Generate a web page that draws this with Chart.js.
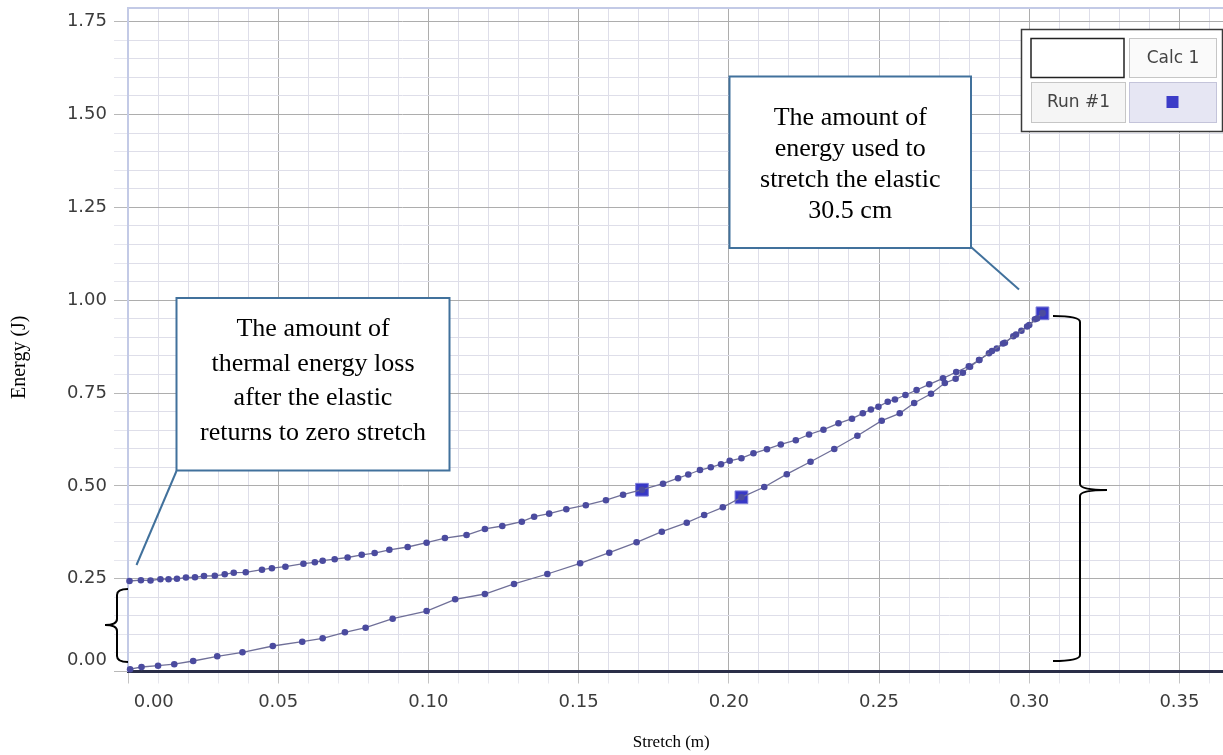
<!DOCTYPE html>
<html>
<head>
<meta charset="utf-8">
<script src="https://cdn.jsdelivr.net/npm/chart.js@4.4.0/dist/chart.umd.min.js"></script>
<style>
  html, body { margin: 0; padding: 0; background: #fff; }
  #wrap { width: 1223px; height: 755px; position: relative; }
</style>
</head>
<body>
<div id="wrap"><canvas id="chart"></canvas></div>
<script>
// values: stretch (m) vs energy (J)
const stretchX = [0.0007, 0.0045, 0.0100, 0.0154, 0.0217, 0.0297, 0.0381, 0.0482, 0.0580, 0.0648,
  0.0722, 0.0791, 0.0881, 0.0994, 0.1089, 0.1188, 0.1285, 0.1396, 0.1505, 0.1602,
  0.1693, 0.1777, 0.1860, 0.1918, 0.1980, 0.2042, 0.2118, 0.2193, 0.2272, 0.2351,
  0.2428, 0.2509, 0.2569, 0.2617, 0.2673, 0.2719, 0.2755, 0.2779, 0.2803, 0.2834,
  0.2876, 0.2913, 0.2956, 0.2993, 0.3026, 0.3044];
const stretchE = [0.0062, 0.0121, 0.0156, 0.0197, 0.0283, 0.0409, 0.0517, 0.0687, 0.0803, 0.0894,
  0.1056, 0.1180, 0.1422, 0.1629, 0.1945, 0.2087, 0.2357, 0.2626, 0.2914, 0.3200,
  0.3480, 0.3765, 0.4008, 0.4215, 0.4422, 0.4692, 0.4969, 0.5314, 0.5650, 0.5992,
  0.6348, 0.6755, 0.6954, 0.7231, 0.7482, 0.7770, 0.7883, 0.8047, 0.8209, 0.8389,
  0.8632, 0.8834, 0.9076, 0.9292, 0.9507, 0.9647];

const returnX = [0.0005, 0.0043, 0.0075, 0.0108, 0.0135, 0.0163, 0.0193, 0.0223, 0.0253, 0.0289,
  0.0322, 0.0352, 0.0392, 0.0446, 0.0479, 0.0524, 0.0584, 0.0622, 0.0648, 0.0688,
  0.0731, 0.0778, 0.0821, 0.0870, 0.0931, 0.0994, 0.1055, 0.1127, 0.1188, 0.1246,
  0.1311, 0.1352, 0.1402, 0.1459, 0.1524, 0.1591, 0.1648, 0.1711, 0.1781, 0.1831,
  0.1865, 0.1904, 0.1940, 0.1974, 0.2003, 0.2042, 0.2082, 0.2127, 0.2173, 0.2223,
  0.2267, 0.2315, 0.2365, 0.2410, 0.2446, 0.2473, 0.2498, 0.2529, 0.2553, 0.2588,
  0.2625, 0.2667, 0.2713, 0.2757, 0.2799, 0.2833, 0.2866, 0.2892, 0.2919, 0.2947,
  0.2974, 0.3000, 0.3019, 0.3044];
const returnE = [0.2437, 0.2459, 0.2451, 0.2486, 0.2486, 0.2497, 0.2532, 0.2537, 0.2572, 0.2577,
  0.2618, 0.2661, 0.2672, 0.2742, 0.2782, 0.2822, 0.2903, 0.2941, 0.2984, 0.3024,
  0.3070, 0.3143, 0.3191, 0.3278, 0.3353, 0.3469, 0.3595, 0.3676, 0.3839, 0.3919,
  0.4034, 0.4169, 0.4251, 0.4371, 0.4479, 0.4614, 0.4762, 0.4896, 0.5058, 0.5206,
  0.5306, 0.5427, 0.5500, 0.5583, 0.5675, 0.5745, 0.5877, 0.5987, 0.6114, 0.6229,
  0.6383, 0.6512, 0.6685, 0.6809, 0.6954, 0.7056, 0.7132, 0.7264, 0.7326, 0.7447,
  0.7581, 0.7735, 0.7897, 0.8066, 0.8220, 0.8389, 0.8570, 0.8699, 0.8855, 0.9028,
  0.9179, 0.9332, 0.9486, 0.9647];

// the big square markers on the run
const markerX = [0.1711, 0.2042, 0.3044];
const markerE = [0.4896, 0.4692, 0.9647];

const xTicks = [0, 0.05, 0.10, 0.15, 0.20, 0.25, 0.30, 0.35];
const yTicks = [0, 0.25, 0.50, 0.75, 1.00, 1.25, 1.50, 1.75];

const legendLabels = ['Calc 1', 'Run #1'];
const noteStretch = ['The amount of', 'energy used to', 'stretch the elastic', '30.5 cm'];
const noteThermal = ['The amount of', 'thermal energy loss', 'after the elastic', 'returns to zero stretch'];

const pts = (xs, ys) => xs.map((x, i) => ({ x: x, y: ys[i] }));
const onList = (list, v) => list.some(t => Math.abs(t - v) < 1e-9);

const MAJOR = '#adadad';
const MINOR = '#dedee9';
const FRAME = '#c3cae6';
const NOTE = '#41719c';

function callout(ctx, box, lines, baselines, lead) {
    ctx.save();
    ctx.fillStyle = '#fff';
    ctx.fillRect(box[0], box[1], box[2], box[3]);
    ctx.strokeStyle = NOTE;
    ctx.lineWidth = 2;
    ctx.strokeRect(box[0], box[1], box[2], box[3]);
    ctx.beginPath();
    ctx.moveTo(lead[0], lead[1]);
    ctx.lineTo(lead[2], lead[3]);
    ctx.stroke();
    ctx.fillStyle = '#000';
    ctx.font = '26px "Liberation Serif"';
    ctx.textAlign = 'center';
    ctx.textBaseline = 'alphabetic';
    const cx = box[0] + box[2] / 2;
    lines.forEach((t, i) => ctx.fillText(t, cx, baselines[i]));
    ctx.restore();
}

// curly bracket: ends at endX, spine at spineX, middle point out to tipX
function brace(ctx, endX, spineX, tipX, top, mid, bottom) {
    const d = 6;
    ctx.save();
    ctx.strokeStyle = '#000';
    ctx.lineWidth = 2;
    ctx.beginPath();
    ctx.moveTo(endX, top);
    ctx.quadraticCurveTo(spineX, top, spineX, top + d);
    ctx.lineTo(spineX, mid - d);
    ctx.quadraticCurveTo(spineX, mid, tipX, mid);
    ctx.quadraticCurveTo(spineX, mid, spineX, mid + d);
    ctx.lineTo(spineX, bottom - d);
    ctx.quadraticCurveTo(spineX, bottom, endX, bottom);
    ctx.stroke();
    ctx.restore();
}

const notesPlugin = {
    id: 'notes',
    afterDraw(chart) {
        const ctx = chart.ctx;
        const a = chart.chartArea;

        // light frame along the top of the plot
        ctx.save();
        ctx.strokeStyle = FRAME;
        ctx.lineWidth = 2;
        ctx.beginPath();
        ctx.moveTo(a.left, a.top);
        ctx.lineTo(a.right, a.top);
        ctx.stroke();
        ctx.restore();

        callout(ctx, [729.5, 76.5, 241.5, 171.5], noteStretch, [125, 156, 187, 218], [971, 247, 1019, 289.5]);
        callout(ctx, [176.5, 298, 273, 172.5], noteThermal, [336, 370.5, 405, 439.5], [176.5, 471, 136.5, 565]);

        brace(ctx, 128, 117, 105, 589, 625, 662);
        brace(ctx, 1053, 1080, 1107, 316, 490, 661);

        // legend table, top right
        ctx.save();
        ctx.fillStyle = '#fff';
        ctx.fillRect(1021.5, 29.5, 201, 102);
        ctx.strokeStyle = '#3a3a3a';
        ctx.lineWidth = 1.5;
        ctx.strokeRect(1021.5, 29.5, 201, 102);

        ctx.fillStyle = '#fff';
        ctx.fillRect(1031, 38.5, 93, 39);
        ctx.strokeStyle = '#222';
        ctx.lineWidth = 1.5;
        ctx.strokeRect(1031, 38.5, 93, 39);

        ctx.fillStyle = '#fafafa';
        ctx.fillRect(1129.5, 38.5, 87, 39);
        ctx.fillStyle = '#f5f5f5';
        ctx.fillRect(1031.5, 82.5, 94, 40);
        ctx.fillStyle = '#e6e6f3';
        ctx.fillRect(1129.5, 82.5, 87, 40);
        ctx.strokeStyle = '#c6c6c6';
        ctx.lineWidth = 1;
        ctx.strokeRect(1129.5, 38.5, 87, 39);
        ctx.strokeRect(1031.5, 82.5, 94, 40);
        ctx.strokeStyle = '#c4c4da';
        ctx.strokeRect(1129.5, 82.5, 87, 40);

        ctx.fillStyle = '#3c3cc8';
        ctx.fillRect(1166.5, 96, 12, 12);

        ctx.fillStyle = '#444';
        ctx.font = '17px "DejaVu Sans"';
        ctx.textAlign = 'center';
        ctx.textBaseline = 'middle';
        ctx.fillText(legendLabels[0], 1173, 58.5);
        ctx.fillText(legendLabels[1], 1078.5, 102.5);
        ctx.restore();
    }
};

const runStyle = {
    showLine: true,
    borderColor: '#6f6f98',
    borderWidth: 1.3,
    pointRadius: 3.3,
    pointHoverRadius: 3.3,
    pointBackgroundColor: '#4b4b9f',
    pointBorderWidth: 0,
    clip: false
};

new Chart(document.getElementById('chart'), {
    type: 'scatter',
    data: {
        datasets: [
            Object.assign({ label: 'Run #1', data: pts(stretchX, stretchE) }, runStyle),
            Object.assign({ label: 'Run #1 return', data: pts(returnX, returnE) }, runStyle),
            {
                label: 'markers',
                data: pts(markerX, markerE),
                showLine: false,
                pointStyle: 'rect',
                pointRadius: 9,
                pointHoverRadius: 9,
                pointBackgroundColor: '#3838c6',
                pointBorderColor: '#7d7dd8',
                pointBorderWidth: 1,
                clip: false
            }
        ]
    },
    options: {
        responsive: true,
        maintainAspectRatio: false,
        animation: false,
        layout: { autoPadding: false, padding: { left: 8, top: 8, right: 0, bottom: 0 } },
        plugins: {
            legend: { display: false },
            tooltip: { enabled: false }
        },
        scales: {
            x: {
                type: 'linear',
                min: 0,
                max: 0.3645,
                afterFit(scale) {
                    scale.height = 83.5;
                    scale.paddingLeft = 0;
                    scale.paddingRight = 0;
                },
                border: { color: '#2a2e48', width: 3 },
                grid: {
                    color: ctx => onList(xTicks, ctx.tick.value) ? MAJOR : MINOR,
                    tickColor: ctx => onList(xTicks, ctx.tick.value) ? '#c4c4c4' : '#e8e8ee',
                    tickLength: 12
                },
                ticks: {
                    stepSize: 0.01,
                    includeBounds: false,
                    autoSkip: false,
                    maxRotation: 0,
                    minRotation: 0,
                    padding: 8,
                    color: '#3c3c3c',
                    font: { family: 'DejaVu Sans', size: 18 },
                    callback(v) {
                        if (!onList(xTicks, v)) return '';
                        const s = v.toFixed(2);
                        return Math.abs(v) < 1e-9 ? ' '.repeat(9) + s : s;
                    }
                },
                title: {
                    display: true,
                    text: 'Stretch (m)  ',
                    color: '#000',
                    font: { family: 'Liberation Serif', size: 17 },
                    padding: { top: 0, bottom: 2 }
                }
            },
            y: {
                type: 'linear',
                min: 0,
                max: 1.787,
                afterFit(scale) {
                    scale.width = 120;
                    scale.paddingTop = 0;
                    scale.paddingBottom = 0;
                },
                border: { color: FRAME, width: 2 },
                grid: {
                    color: ctx => onList(yTicks, ctx.tick.value) ? MAJOR : MINOR,
                    tickColor: ctx => onList(yTicks, ctx.tick.value) ? '#b8b8b8' : '#e6e6ee',
                    tickLength: 14
                },
                ticks: {
                    stepSize: 0.05,
                    includeBounds: false,
                    autoSkip: false,
                    padding: 7,
                    color: '#3c3c3c',
                    font: { family: 'DejaVu Sans', size: 18 },
                    callback(v) {
                        if (!onList(yTicks, v)) return '';
                        const s = v.toFixed(2);
                        return Math.abs(v) < 1e-9 ? [s, ''] : s;
                    }
                },
                title: {
                    display: true,
                    text: 'Energy (J)       ',
                    color: '#000',
                    font: { family: 'Liberation Serif', size: 20 },
                    padding: { top: 0, bottom: 0 }
                }
            }
        }
    },
    plugins: [notesPlugin]
});
</script>
</body>
</html>
